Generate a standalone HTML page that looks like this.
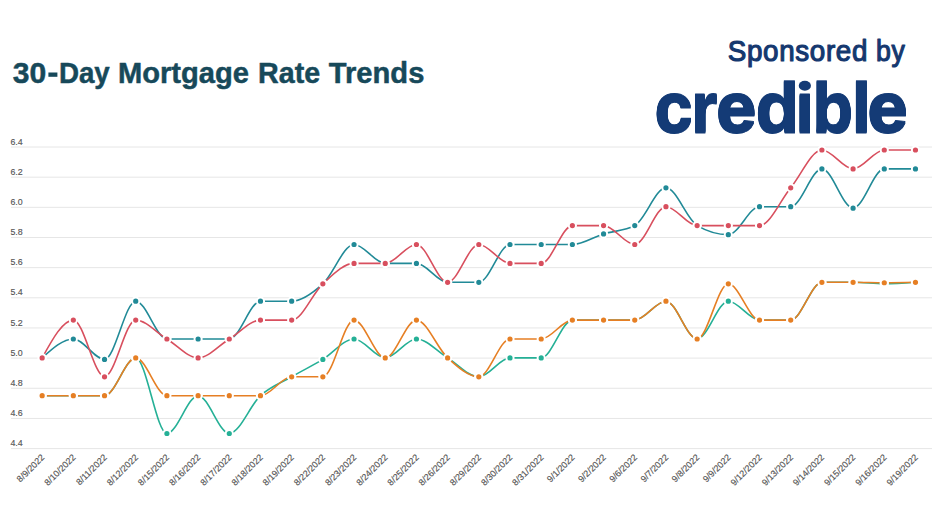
<!DOCTYPE html>
<html><head><meta charset="utf-8"><title>30-Day Mortgage Rate Trends</title>
<style>
html,body{margin:0;padding:0;background:#fff;}
body{width:932px;height:524px;overflow:hidden;position:relative;font-family:"Liberation Sans",sans-serif;}
text{font-family:"Liberation Sans",sans-serif;}
svg{position:absolute;left:0;top:0;}
.yl{font-family:"Liberation Sans",sans-serif;font-size:9.6px;fill:#555555;stroke:#555555;stroke-width:0.15px;}
.xl{font-family:"Liberation Sans",sans-serif;font-size:9px;fill:#555555;stroke:#555555;stroke-width:0.15px;}
</style></head><body>
<svg width="932" height="524" viewBox="0 0 932 524">
<line x1="11.0" y1="147.00" x2="932" y2="147.00" stroke="#e6e6e6" stroke-width="1"/>
<line x1="11.0" y1="177.16" x2="932" y2="177.16" stroke="#e6e6e6" stroke-width="1"/>
<line x1="11.0" y1="207.32" x2="932" y2="207.32" stroke="#e6e6e6" stroke-width="1"/>
<line x1="11.0" y1="237.48" x2="932" y2="237.48" stroke="#e6e6e6" stroke-width="1"/>
<line x1="11.0" y1="267.64" x2="932" y2="267.64" stroke="#e6e6e6" stroke-width="1"/>
<line x1="11.0" y1="297.80" x2="932" y2="297.80" stroke="#e6e6e6" stroke-width="1"/>
<line x1="11.0" y1="327.96" x2="932" y2="327.96" stroke="#e6e6e6" stroke-width="1"/>
<line x1="11.0" y1="358.12" x2="932" y2="358.12" stroke="#e6e6e6" stroke-width="1"/>
<line x1="11.0" y1="388.28" x2="932" y2="388.28" stroke="#e6e6e6" stroke-width="1"/>
<line x1="11.0" y1="418.44" x2="932" y2="418.44" stroke="#e6e6e6" stroke-width="1"/>
<line x1="11.0" y1="448.60" x2="932" y2="448.60" stroke="#e6e6e6" stroke-width="1"/>
<text transform="translate(10.40,144.60) scale(0.92,1)" class="yl">6.4</text>
<text transform="translate(10.40,174.76) scale(0.92,1)" class="yl">6.2</text>
<text transform="translate(10.40,204.92) scale(0.92,1)" class="yl">6.0</text>
<text transform="translate(10.40,235.08) scale(0.92,1)" class="yl">5.8</text>
<text transform="translate(10.40,265.24) scale(0.92,1)" class="yl">5.6</text>
<text transform="translate(10.40,295.40) scale(0.92,1)" class="yl">5.4</text>
<text transform="translate(10.40,325.56) scale(0.92,1)" class="yl">5.2</text>
<text transform="translate(10.40,355.72) scale(0.92,1)" class="yl">5.0</text>
<text transform="translate(10.40,385.88) scale(0.92,1)" class="yl">4.8</text>
<text transform="translate(10.40,416.04) scale(0.92,1)" class="yl">4.6</text>
<text transform="translate(10.40,446.20) scale(0.92,1)" class="yl">4.4</text>
<text class="xl" text-anchor="end" transform="translate(45.15,458.00) rotate(-45)">8/9/2022</text>
<text class="xl" text-anchor="end" transform="translate(76.34,458.00) rotate(-45)">8/10/2022</text>
<text class="xl" text-anchor="end" transform="translate(107.53,458.00) rotate(-45)">8/11/2022</text>
<text class="xl" text-anchor="end" transform="translate(138.72,458.00) rotate(-45)">8/12/2022</text>
<text class="xl" text-anchor="end" transform="translate(169.91,458.00) rotate(-45)">8/15/2022</text>
<text class="xl" text-anchor="end" transform="translate(201.10,458.00) rotate(-45)">8/16/2022</text>
<text class="xl" text-anchor="end" transform="translate(232.29,458.00) rotate(-45)">8/17/2022</text>
<text class="xl" text-anchor="end" transform="translate(263.48,458.00) rotate(-45)">8/18/2022</text>
<text class="xl" text-anchor="end" transform="translate(294.67,458.00) rotate(-45)">8/19/2022</text>
<text class="xl" text-anchor="end" transform="translate(325.86,458.00) rotate(-45)">8/22/2022</text>
<text class="xl" text-anchor="end" transform="translate(357.05,458.00) rotate(-45)">8/23/2022</text>
<text class="xl" text-anchor="end" transform="translate(388.24,458.00) rotate(-45)">8/24/2022</text>
<text class="xl" text-anchor="end" transform="translate(419.43,458.00) rotate(-45)">8/25/2022</text>
<text class="xl" text-anchor="end" transform="translate(450.62,458.00) rotate(-45)">8/26/2022</text>
<text class="xl" text-anchor="end" transform="translate(481.81,458.00) rotate(-45)">8/29/2022</text>
<text class="xl" text-anchor="end" transform="translate(513.00,458.00) rotate(-45)">8/30/2022</text>
<text class="xl" text-anchor="end" transform="translate(544.19,458.00) rotate(-45)">8/31/2022</text>
<text class="xl" text-anchor="end" transform="translate(575.38,458.00) rotate(-45)">9/1/2022</text>
<text class="xl" text-anchor="end" transform="translate(606.57,458.00) rotate(-45)">9/2/2022</text>
<text class="xl" text-anchor="end" transform="translate(637.76,458.00) rotate(-45)">9/6/2022</text>
<text class="xl" text-anchor="end" transform="translate(668.95,458.00) rotate(-45)">9/7/2022</text>
<text class="xl" text-anchor="end" transform="translate(700.14,458.00) rotate(-45)">9/8/2022</text>
<text class="xl" text-anchor="end" transform="translate(731.33,458.00) rotate(-45)">9/9/2022</text>
<text class="xl" text-anchor="end" transform="translate(762.52,458.00) rotate(-45)">9/12/2022</text>
<text class="xl" text-anchor="end" transform="translate(793.71,458.00) rotate(-45)">9/13/2022</text>
<text class="xl" text-anchor="end" transform="translate(824.90,458.00) rotate(-45)">9/14/2022</text>
<text class="xl" text-anchor="end" transform="translate(856.09,458.00) rotate(-45)">9/15/2022</text>
<text class="xl" text-anchor="end" transform="translate(887.28,458.00) rotate(-45)">9/16/2022</text>
<text class="xl" text-anchor="end" transform="translate(918.47,458.00) rotate(-45)">9/19/2022</text>
<path d="M42.15,357.88C52.55,348.43,62.94,338.98,73.34,338.98C83.74,338.98,94.13,359.39,104.53,359.39C114.93,359.39,125.32,301.18,135.72,301.18C146.12,301.18,156.51,338.98,166.91,338.98C177.31,338.98,187.70,338.98,198.10,338.98C208.50,338.98,218.89,338.98,229.29,338.98C239.69,338.98,250.08,301.18,260.48,301.18C270.88,301.18,281.27,301.18,291.67,301.18C302.07,301.18,312.46,293.24,322.86,283.79C333.26,274.34,343.65,244.48,354.05,244.48C364.45,244.48,374.84,263.38,385.24,263.38C395.64,263.38,406.03,263.38,416.43,263.38C426.83,263.38,437.22,282.28,447.62,282.28C458.02,282.28,468.41,282.28,478.81,282.28C489.21,282.28,499.60,244.48,510.00,244.48C520.40,244.48,530.79,244.48,541.19,244.48C551.59,244.48,561.98,244.48,572.38,244.48C582.78,244.48,593.17,237.05,603.57,233.90C613.97,230.75,624.36,231.12,634.76,225.58C645.16,220.04,655.55,187.78,665.95,187.78C676.35,187.78,686.74,219.53,697.14,225.58C707.54,231.63,717.93,234.65,728.33,234.65C738.73,234.65,749.12,206.68,759.52,206.68C769.92,206.68,780.31,206.68,790.71,206.68C801.11,206.68,811.50,168.88,821.90,168.88C832.30,168.88,842.69,208.19,853.09,208.19C863.49,208.19,873.88,168.88,884.28,168.88C894.68,168.88,905.07,168.88,915.47,168.88" fill="none" stroke="#218a97" stroke-width="1.6" stroke-linecap="round"/>
<path d="M42.15,395.68C52.55,395.68,62.94,395.68,73.34,395.68C83.74,395.68,94.13,395.68,104.53,395.68C114.93,395.68,125.32,357.88,135.72,357.88C146.12,357.88,156.51,433.48,166.91,433.48C177.31,433.48,187.70,395.68,198.10,395.68C208.50,395.68,218.89,433.48,229.29,433.48C239.69,433.48,250.08,405.13,260.48,395.68C270.88,386.23,281.27,382.83,291.67,376.78C302.07,370.73,312.46,365.69,322.86,359.39C333.26,353.09,343.65,338.98,354.05,338.98C364.45,338.98,374.84,357.88,385.24,357.88C395.64,357.88,406.03,338.98,416.43,338.98C426.83,338.98,437.22,351.58,447.62,357.88C458.02,364.18,468.41,376.78,478.81,376.78C489.21,376.78,499.60,357.88,510.00,357.88C520.40,357.88,530.79,357.88,541.19,357.88C551.59,357.88,561.98,320.08,572.38,320.08C582.78,320.08,593.17,320.08,603.57,320.08C613.97,320.08,624.36,320.08,634.76,320.08C645.16,320.08,655.55,301.18,665.95,301.18C676.35,301.18,686.74,338.98,697.14,338.98C707.54,338.98,717.93,301.18,728.33,301.18C738.73,301.18,749.12,320.08,759.52,320.08C769.92,320.08,780.31,320.08,790.71,320.08C801.11,320.08,811.50,282.28,821.90,282.28C832.30,282.28,842.69,282.28,853.09,282.28C863.49,282.28,873.88,283.79,884.28,283.79C894.68,283.79,905.07,283.04,915.47,282.28" fill="none" stroke="#25b096" stroke-width="1.6" stroke-linecap="round"/>
<path d="M42.15,357.88C52.55,338.98,62.94,320.08,73.34,320.08C83.74,320.08,94.13,376.78,104.53,376.78C114.93,376.78,125.32,320.08,135.72,320.08C146.12,320.08,156.51,332.68,166.91,338.98C177.31,345.28,187.70,357.88,198.10,357.88C208.50,357.88,218.89,345.28,229.29,338.98C239.69,332.68,250.08,320.08,260.48,320.08C270.88,320.08,281.27,320.08,291.67,320.08C302.07,320.08,312.46,293.24,322.86,283.79C333.26,274.34,343.65,263.38,354.05,263.38C364.45,263.38,374.84,263.38,385.24,263.38C395.64,263.38,406.03,244.48,416.43,244.48C426.83,244.48,437.22,282.28,447.62,282.28C458.02,282.28,468.41,244.48,478.81,244.48C489.21,244.48,499.60,263.38,510.00,263.38C520.40,263.38,530.79,263.38,541.19,263.38C551.59,263.38,561.98,225.58,572.38,225.58C582.78,225.58,593.17,225.58,603.57,225.58C613.97,225.58,624.36,244.48,634.76,244.48C645.16,244.48,655.55,206.68,665.95,206.68C676.35,206.68,686.74,225.58,697.14,225.58C707.54,225.58,717.93,225.58,728.33,225.58C738.73,225.58,749.12,225.58,759.52,225.58C769.92,225.58,780.31,200.38,790.71,187.78C801.11,175.18,811.50,149.98,821.90,149.98C832.30,149.98,842.69,168.88,853.09,168.88C863.49,168.88,873.88,149.98,884.28,149.98C894.68,149.98,905.07,149.98,915.47,149.98" fill="none" stroke="#d84f5e" stroke-width="1.6" stroke-linecap="round"/>
<path d="M42.15,395.68C52.55,395.68,62.94,395.68,73.34,395.68C83.74,395.68,94.13,395.68,104.53,395.68C114.93,395.68,125.32,357.88,135.72,357.88C146.12,357.88,156.51,395.68,166.91,395.68C177.31,395.68,187.70,395.68,198.10,395.68C208.50,395.68,218.89,395.68,229.29,395.68C239.69,395.68,250.08,395.68,260.48,395.68C270.88,395.68,281.27,376.78,291.67,376.78C302.07,376.78,312.46,376.78,322.86,376.78C333.26,376.78,343.65,320.08,354.05,320.08C364.45,320.08,374.84,357.88,385.24,357.88C395.64,357.88,406.03,320.08,416.43,320.08C426.83,320.08,437.22,348.43,447.62,357.88C458.02,367.33,468.41,376.78,478.81,376.78C489.21,376.78,499.60,338.98,510.00,338.98C520.40,338.98,530.79,338.98,541.19,338.98C551.59,338.98,561.98,320.08,572.38,320.08C582.78,320.08,593.17,320.08,603.57,320.08C613.97,320.08,624.36,320.08,634.76,320.08C645.16,320.08,655.55,301.18,665.95,301.18C676.35,301.18,686.74,338.98,697.14,338.98C707.54,338.98,717.93,283.79,728.33,283.79C738.73,283.79,749.12,320.08,759.52,320.08C769.92,320.08,780.31,320.08,790.71,320.08C801.11,320.08,811.50,282.28,821.90,282.28C832.30,282.28,842.69,282.28,853.09,282.28C863.49,282.28,873.88,282.73,884.28,282.73C894.68,282.73,905.07,282.51,915.47,282.28" fill="none" stroke="#e67f24" stroke-width="1.6" stroke-linecap="round"/>
<circle cx="42.15" cy="357.88" r="3.6" fill="#218a97" stroke="#fff" stroke-width="2.0"/>
<circle cx="73.34" cy="338.98" r="3.6" fill="#218a97" stroke="#fff" stroke-width="2.0"/>
<circle cx="104.53" cy="359.39" r="3.6" fill="#218a97" stroke="#fff" stroke-width="2.0"/>
<circle cx="135.72" cy="301.18" r="3.6" fill="#218a97" stroke="#fff" stroke-width="2.0"/>
<circle cx="166.91" cy="338.98" r="3.6" fill="#218a97" stroke="#fff" stroke-width="2.0"/>
<circle cx="198.10" cy="338.98" r="3.6" fill="#218a97" stroke="#fff" stroke-width="2.0"/>
<circle cx="229.29" cy="338.98" r="3.6" fill="#218a97" stroke="#fff" stroke-width="2.0"/>
<circle cx="260.48" cy="301.18" r="3.6" fill="#218a97" stroke="#fff" stroke-width="2.0"/>
<circle cx="291.67" cy="301.18" r="3.6" fill="#218a97" stroke="#fff" stroke-width="2.0"/>
<circle cx="322.86" cy="283.79" r="3.6" fill="#218a97" stroke="#fff" stroke-width="2.0"/>
<circle cx="354.05" cy="244.48" r="3.6" fill="#218a97" stroke="#fff" stroke-width="2.0"/>
<circle cx="385.24" cy="263.38" r="3.6" fill="#218a97" stroke="#fff" stroke-width="2.0"/>
<circle cx="416.43" cy="263.38" r="3.6" fill="#218a97" stroke="#fff" stroke-width="2.0"/>
<circle cx="447.62" cy="282.28" r="3.6" fill="#218a97" stroke="#fff" stroke-width="2.0"/>
<circle cx="478.81" cy="282.28" r="3.6" fill="#218a97" stroke="#fff" stroke-width="2.0"/>
<circle cx="510.00" cy="244.48" r="3.6" fill="#218a97" stroke="#fff" stroke-width="2.0"/>
<circle cx="541.19" cy="244.48" r="3.6" fill="#218a97" stroke="#fff" stroke-width="2.0"/>
<circle cx="572.38" cy="244.48" r="3.6" fill="#218a97" stroke="#fff" stroke-width="2.0"/>
<circle cx="603.57" cy="233.90" r="3.6" fill="#218a97" stroke="#fff" stroke-width="2.0"/>
<circle cx="634.76" cy="225.58" r="3.6" fill="#218a97" stroke="#fff" stroke-width="2.0"/>
<circle cx="665.95" cy="187.78" r="3.6" fill="#218a97" stroke="#fff" stroke-width="2.0"/>
<circle cx="697.14" cy="225.58" r="3.6" fill="#218a97" stroke="#fff" stroke-width="2.0"/>
<circle cx="728.33" cy="234.65" r="3.6" fill="#218a97" stroke="#fff" stroke-width="2.0"/>
<circle cx="759.52" cy="206.68" r="3.6" fill="#218a97" stroke="#fff" stroke-width="2.0"/>
<circle cx="790.71" cy="206.68" r="3.6" fill="#218a97" stroke="#fff" stroke-width="2.0"/>
<circle cx="821.90" cy="168.88" r="3.6" fill="#218a97" stroke="#fff" stroke-width="2.0"/>
<circle cx="853.09" cy="208.19" r="3.6" fill="#218a97" stroke="#fff" stroke-width="2.0"/>
<circle cx="884.28" cy="168.88" r="3.6" fill="#218a97" stroke="#fff" stroke-width="2.0"/>
<circle cx="915.47" cy="168.88" r="3.6" fill="#218a97" stroke="#fff" stroke-width="2.0"/>
<circle cx="42.15" cy="395.68" r="3.6" fill="#25b096" stroke="#fff" stroke-width="2.0"/>
<circle cx="73.34" cy="395.68" r="3.6" fill="#25b096" stroke="#fff" stroke-width="2.0"/>
<circle cx="104.53" cy="395.68" r="3.6" fill="#25b096" stroke="#fff" stroke-width="2.0"/>
<circle cx="135.72" cy="357.88" r="3.6" fill="#25b096" stroke="#fff" stroke-width="2.0"/>
<circle cx="166.91" cy="433.48" r="3.6" fill="#25b096" stroke="#fff" stroke-width="2.0"/>
<circle cx="198.10" cy="395.68" r="3.6" fill="#25b096" stroke="#fff" stroke-width="2.0"/>
<circle cx="229.29" cy="433.48" r="3.6" fill="#25b096" stroke="#fff" stroke-width="2.0"/>
<circle cx="260.48" cy="395.68" r="3.6" fill="#25b096" stroke="#fff" stroke-width="2.0"/>
<circle cx="291.67" cy="376.78" r="3.6" fill="#25b096" stroke="#fff" stroke-width="2.0"/>
<circle cx="322.86" cy="359.39" r="3.6" fill="#25b096" stroke="#fff" stroke-width="2.0"/>
<circle cx="354.05" cy="338.98" r="3.6" fill="#25b096" stroke="#fff" stroke-width="2.0"/>
<circle cx="385.24" cy="357.88" r="3.6" fill="#25b096" stroke="#fff" stroke-width="2.0"/>
<circle cx="416.43" cy="338.98" r="3.6" fill="#25b096" stroke="#fff" stroke-width="2.0"/>
<circle cx="447.62" cy="357.88" r="3.6" fill="#25b096" stroke="#fff" stroke-width="2.0"/>
<circle cx="478.81" cy="376.78" r="3.6" fill="#25b096" stroke="#fff" stroke-width="2.0"/>
<circle cx="510.00" cy="357.88" r="3.6" fill="#25b096" stroke="#fff" stroke-width="2.0"/>
<circle cx="541.19" cy="357.88" r="3.6" fill="#25b096" stroke="#fff" stroke-width="2.0"/>
<circle cx="572.38" cy="320.08" r="3.6" fill="#25b096" stroke="#fff" stroke-width="2.0"/>
<circle cx="603.57" cy="320.08" r="3.6" fill="#25b096" stroke="#fff" stroke-width="2.0"/>
<circle cx="634.76" cy="320.08" r="3.6" fill="#25b096" stroke="#fff" stroke-width="2.0"/>
<circle cx="665.95" cy="301.18" r="3.6" fill="#25b096" stroke="#fff" stroke-width="2.0"/>
<circle cx="697.14" cy="338.98" r="3.6" fill="#25b096" stroke="#fff" stroke-width="2.0"/>
<circle cx="728.33" cy="301.18" r="3.6" fill="#25b096" stroke="#fff" stroke-width="2.0"/>
<circle cx="759.52" cy="320.08" r="3.6" fill="#25b096" stroke="#fff" stroke-width="2.0"/>
<circle cx="790.71" cy="320.08" r="3.6" fill="#25b096" stroke="#fff" stroke-width="2.0"/>
<circle cx="821.90" cy="282.28" r="3.6" fill="#25b096" stroke="#fff" stroke-width="2.0"/>
<circle cx="853.09" cy="282.28" r="3.6" fill="#25b096" stroke="#fff" stroke-width="2.0"/>
<circle cx="884.28" cy="283.79" r="3.6" fill="#25b096" stroke="#fff" stroke-width="2.0"/>
<circle cx="915.47" cy="282.28" r="3.6" fill="#25b096" stroke="#fff" stroke-width="2.0"/>
<circle cx="42.15" cy="357.88" r="3.6" fill="#d84f5e" stroke="#fff" stroke-width="2.0"/>
<circle cx="73.34" cy="320.08" r="3.6" fill="#d84f5e" stroke="#fff" stroke-width="2.0"/>
<circle cx="104.53" cy="376.78" r="3.6" fill="#d84f5e" stroke="#fff" stroke-width="2.0"/>
<circle cx="135.72" cy="320.08" r="3.6" fill="#d84f5e" stroke="#fff" stroke-width="2.0"/>
<circle cx="166.91" cy="338.98" r="3.6" fill="#d84f5e" stroke="#fff" stroke-width="2.0"/>
<circle cx="198.10" cy="357.88" r="3.6" fill="#d84f5e" stroke="#fff" stroke-width="2.0"/>
<circle cx="229.29" cy="338.98" r="3.6" fill="#d84f5e" stroke="#fff" stroke-width="2.0"/>
<circle cx="260.48" cy="320.08" r="3.6" fill="#d84f5e" stroke="#fff" stroke-width="2.0"/>
<circle cx="291.67" cy="320.08" r="3.6" fill="#d84f5e" stroke="#fff" stroke-width="2.0"/>
<circle cx="322.86" cy="283.79" r="3.6" fill="#d84f5e" stroke="#fff" stroke-width="2.0"/>
<circle cx="354.05" cy="263.38" r="3.6" fill="#d84f5e" stroke="#fff" stroke-width="2.0"/>
<circle cx="385.24" cy="263.38" r="3.6" fill="#d84f5e" stroke="#fff" stroke-width="2.0"/>
<circle cx="416.43" cy="244.48" r="3.6" fill="#d84f5e" stroke="#fff" stroke-width="2.0"/>
<circle cx="447.62" cy="282.28" r="3.6" fill="#d84f5e" stroke="#fff" stroke-width="2.0"/>
<circle cx="478.81" cy="244.48" r="3.6" fill="#d84f5e" stroke="#fff" stroke-width="2.0"/>
<circle cx="510.00" cy="263.38" r="3.6" fill="#d84f5e" stroke="#fff" stroke-width="2.0"/>
<circle cx="541.19" cy="263.38" r="3.6" fill="#d84f5e" stroke="#fff" stroke-width="2.0"/>
<circle cx="572.38" cy="225.58" r="3.6" fill="#d84f5e" stroke="#fff" stroke-width="2.0"/>
<circle cx="603.57" cy="225.58" r="3.6" fill="#d84f5e" stroke="#fff" stroke-width="2.0"/>
<circle cx="634.76" cy="244.48" r="3.6" fill="#d84f5e" stroke="#fff" stroke-width="2.0"/>
<circle cx="665.95" cy="206.68" r="3.6" fill="#d84f5e" stroke="#fff" stroke-width="2.0"/>
<circle cx="697.14" cy="225.58" r="3.6" fill="#d84f5e" stroke="#fff" stroke-width="2.0"/>
<circle cx="728.33" cy="225.58" r="3.6" fill="#d84f5e" stroke="#fff" stroke-width="2.0"/>
<circle cx="759.52" cy="225.58" r="3.6" fill="#d84f5e" stroke="#fff" stroke-width="2.0"/>
<circle cx="790.71" cy="187.78" r="3.6" fill="#d84f5e" stroke="#fff" stroke-width="2.0"/>
<circle cx="821.90" cy="149.98" r="3.6" fill="#d84f5e" stroke="#fff" stroke-width="2.0"/>
<circle cx="853.09" cy="168.88" r="3.6" fill="#d84f5e" stroke="#fff" stroke-width="2.0"/>
<circle cx="884.28" cy="149.98" r="3.6" fill="#d84f5e" stroke="#fff" stroke-width="2.0"/>
<circle cx="915.47" cy="149.98" r="3.6" fill="#d84f5e" stroke="#fff" stroke-width="2.0"/>
<circle cx="42.15" cy="395.68" r="3.6" fill="#e67f24" stroke="#fff" stroke-width="2.0"/>
<circle cx="73.34" cy="395.68" r="3.6" fill="#e67f24" stroke="#fff" stroke-width="2.0"/>
<circle cx="104.53" cy="395.68" r="3.6" fill="#e67f24" stroke="#fff" stroke-width="2.0"/>
<circle cx="135.72" cy="357.88" r="3.6" fill="#e67f24" stroke="#fff" stroke-width="2.0"/>
<circle cx="166.91" cy="395.68" r="3.6" fill="#e67f24" stroke="#fff" stroke-width="2.0"/>
<circle cx="198.10" cy="395.68" r="3.6" fill="#e67f24" stroke="#fff" stroke-width="2.0"/>
<circle cx="229.29" cy="395.68" r="3.6" fill="#e67f24" stroke="#fff" stroke-width="2.0"/>
<circle cx="260.48" cy="395.68" r="3.6" fill="#e67f24" stroke="#fff" stroke-width="2.0"/>
<circle cx="291.67" cy="376.78" r="3.6" fill="#e67f24" stroke="#fff" stroke-width="2.0"/>
<circle cx="322.86" cy="376.78" r="3.6" fill="#e67f24" stroke="#fff" stroke-width="2.0"/>
<circle cx="354.05" cy="320.08" r="3.6" fill="#e67f24" stroke="#fff" stroke-width="2.0"/>
<circle cx="385.24" cy="357.88" r="3.6" fill="#e67f24" stroke="#fff" stroke-width="2.0"/>
<circle cx="416.43" cy="320.08" r="3.6" fill="#e67f24" stroke="#fff" stroke-width="2.0"/>
<circle cx="447.62" cy="357.88" r="3.6" fill="#e67f24" stroke="#fff" stroke-width="2.0"/>
<circle cx="478.81" cy="376.78" r="3.6" fill="#e67f24" stroke="#fff" stroke-width="2.0"/>
<circle cx="510.00" cy="338.98" r="3.6" fill="#e67f24" stroke="#fff" stroke-width="2.0"/>
<circle cx="541.19" cy="338.98" r="3.6" fill="#e67f24" stroke="#fff" stroke-width="2.0"/>
<circle cx="572.38" cy="320.08" r="3.6" fill="#e67f24" stroke="#fff" stroke-width="2.0"/>
<circle cx="603.57" cy="320.08" r="3.6" fill="#e67f24" stroke="#fff" stroke-width="2.0"/>
<circle cx="634.76" cy="320.08" r="3.6" fill="#e67f24" stroke="#fff" stroke-width="2.0"/>
<circle cx="665.95" cy="301.18" r="3.6" fill="#e67f24" stroke="#fff" stroke-width="2.0"/>
<circle cx="697.14" cy="338.98" r="3.6" fill="#e67f24" stroke="#fff" stroke-width="2.0"/>
<circle cx="728.33" cy="283.79" r="3.6" fill="#e67f24" stroke="#fff" stroke-width="2.0"/>
<circle cx="759.52" cy="320.08" r="3.6" fill="#e67f24" stroke="#fff" stroke-width="2.0"/>
<circle cx="790.71" cy="320.08" r="3.6" fill="#e67f24" stroke="#fff" stroke-width="2.0"/>
<circle cx="821.90" cy="282.28" r="3.6" fill="#e67f24" stroke="#fff" stroke-width="2.0"/>
<circle cx="853.09" cy="282.28" r="3.6" fill="#e67f24" stroke="#fff" stroke-width="2.0"/>
<circle cx="884.28" cy="282.73" r="3.6" fill="#e67f24" stroke="#fff" stroke-width="2.0"/>
<circle cx="915.47" cy="282.28" r="3.6" fill="#e67f24" stroke="#fff" stroke-width="2.0"/>
<text transform="translate(12.68,83.00) scale(1.0018,1.0000)" font-size="30" font-weight="bold" fill="#17495a" stroke="#17495a" stroke-width="0.5" stroke-linejoin="round">30</text>
<rect x="48.40" y="72.5" width="9.00" height="4.3" fill="#17495a"/>
<text transform="translate(58.93,83.00) scale(0.9244,1.0000)" font-size="30" font-weight="bold" fill="#17495a" stroke="#17495a" stroke-width="0.5" stroke-linejoin="round">Day</text>
<text transform="translate(117.95,83.00) scale(0.9705,1.0000)" font-size="30" font-weight="bold" fill="#17495a" stroke="#17495a" stroke-width="0.5" stroke-linejoin="round">Mortgage</text>
<text transform="translate(258.08,83.00) scale(0.9552,1.0000)" font-size="30" font-weight="bold" fill="#17495a" stroke="#17495a" stroke-width="0.5" stroke-linejoin="round">Rate</text>
<text transform="translate(328.84,83.00) scale(0.9715,1.0000)" font-size="30" font-weight="bold" fill="#17495a" stroke="#17495a" stroke-width="0.5" stroke-linejoin="round">Trends</text>
<text transform="translate(727.83,61.00) scale(0.9266,1.0000)" font-size="30" font-weight="normal" fill="#15386f" stroke="#15386f" stroke-width="1.2" stroke-linejoin="round" letter-spacing="0.7">Sponsored</text>
<text transform="translate(875.98,61.00) scale(0.8881,1.0000)" font-size="30" font-weight="normal" fill="#15386f" stroke="#15386f" stroke-width="1.2" stroke-linejoin="round" letter-spacing="0.7">by</text>
<text transform="translate(654.44,131.00) scale(0.9789,1.0000)" font-size="70" font-weight="bold" fill="#143b76" stroke="#143b76" stroke-width="1" stroke-linejoin="round">c</text>
<text transform="translate(654.44,132.20) scale(0.9789,1.0000)" font-size="70" font-weight="bold" fill="#143b76" stroke="#143b76" stroke-width="1" stroke-linejoin="round">c</text>
<text transform="translate(654.44,133.40) scale(0.9789,1.0000)" font-size="70" font-weight="bold" fill="#143b76" stroke="#143b76" stroke-width="1" stroke-linejoin="round">c</text>
<text transform="translate(691.04,131.00) scale(0.9633,1.0000)" font-size="70" font-weight="bold" fill="#143b76" stroke="#143b76" stroke-width="1" stroke-linejoin="round">r</text>
<text transform="translate(691.04,132.20) scale(0.9633,1.0000)" font-size="70" font-weight="bold" fill="#143b76" stroke="#143b76" stroke-width="1" stroke-linejoin="round">r</text>
<text transform="translate(691.04,133.40) scale(0.9633,1.0000)" font-size="70" font-weight="bold" fill="#143b76" stroke="#143b76" stroke-width="1" stroke-linejoin="round">r</text>
<text transform="translate(716.00,131.00) scale(1.0433,1.0000)" font-size="70" font-weight="bold" fill="#143b76" stroke="#143b76" stroke-width="1" stroke-linejoin="round">e</text>
<text transform="translate(716.00,132.20) scale(1.0433,1.0000)" font-size="70" font-weight="bold" fill="#143b76" stroke="#143b76" stroke-width="1" stroke-linejoin="round">e</text>
<text transform="translate(716.00,133.40) scale(1.0433,1.0000)" font-size="70" font-weight="bold" fill="#143b76" stroke="#143b76" stroke-width="1" stroke-linejoin="round">e</text>
<text transform="translate(755.59,131.00) scale(1.0228,1.0000)" font-size="70" font-weight="bold" fill="#143b76" stroke="#143b76" stroke-width="1" stroke-linejoin="round">d</text>
<text transform="translate(755.59,132.20) scale(1.0228,1.0000)" font-size="70" font-weight="bold" fill="#143b76" stroke="#143b76" stroke-width="1" stroke-linejoin="round">d</text>
<text transform="translate(755.59,133.40) scale(1.0228,1.0000)" font-size="70" font-weight="bold" fill="#143b76" stroke="#143b76" stroke-width="1" stroke-linejoin="round">d</text>
<text transform="translate(795.25,131.00) scale(0.9792,1.0000)" font-size="70" font-weight="bold" fill="#143b76" stroke="#143b76" stroke-width="1" stroke-linejoin="round">ı</text>
<text transform="translate(795.25,132.20) scale(0.9792,1.0000)" font-size="70" font-weight="bold" fill="#143b76" stroke="#143b76" stroke-width="1" stroke-linejoin="round">ı</text>
<text transform="translate(795.25,133.40) scale(0.9792,1.0000)" font-size="70" font-weight="bold" fill="#143b76" stroke="#143b76" stroke-width="1" stroke-linejoin="round">ı</text>
<text transform="translate(812.41,131.00) scale(0.9486,1.0000)" font-size="70" font-weight="bold" fill="#143b76" stroke="#143b76" stroke-width="1" stroke-linejoin="round">b</text>
<text transform="translate(812.41,132.20) scale(0.9486,1.0000)" font-size="70" font-weight="bold" fill="#143b76" stroke="#143b76" stroke-width="1" stroke-linejoin="round">b</text>
<text transform="translate(812.41,133.40) scale(0.9486,1.0000)" font-size="70" font-weight="bold" fill="#143b76" stroke="#143b76" stroke-width="1" stroke-linejoin="round">b</text>
<text transform="translate(851.57,131.00) scale(1.0151,1.0000)" font-size="70" font-weight="bold" fill="#143b76" stroke="#143b76" stroke-width="1" stroke-linejoin="round">l</text>
<text transform="translate(851.57,132.20) scale(1.0151,1.0000)" font-size="70" font-weight="bold" fill="#143b76" stroke="#143b76" stroke-width="1" stroke-linejoin="round">l</text>
<text transform="translate(851.57,133.40) scale(1.0151,1.0000)" font-size="70" font-weight="bold" fill="#143b76" stroke="#143b76" stroke-width="1" stroke-linejoin="round">l</text>
<text transform="translate(867.28,131.00) scale(1.0491,1.0000)" font-size="70" font-weight="bold" fill="#143b76" stroke="#143b76" stroke-width="1" stroke-linejoin="round">e</text>
<text transform="translate(867.28,132.20) scale(1.0491,1.0000)" font-size="70" font-weight="bold" fill="#143b76" stroke="#143b76" stroke-width="1" stroke-linejoin="round">e</text>
<text transform="translate(867.28,133.40) scale(1.0491,1.0000)" font-size="70" font-weight="bold" fill="#143b76" stroke="#143b76" stroke-width="1" stroke-linejoin="round">e</text>
<rect x="650" y="72" width="262" height="8.3" fill="#fff"/>
<ellipse cx="804.85" cy="85.7" rx="6.1" ry="5.0" fill="#143b76"/>
</svg>
</body></html>
